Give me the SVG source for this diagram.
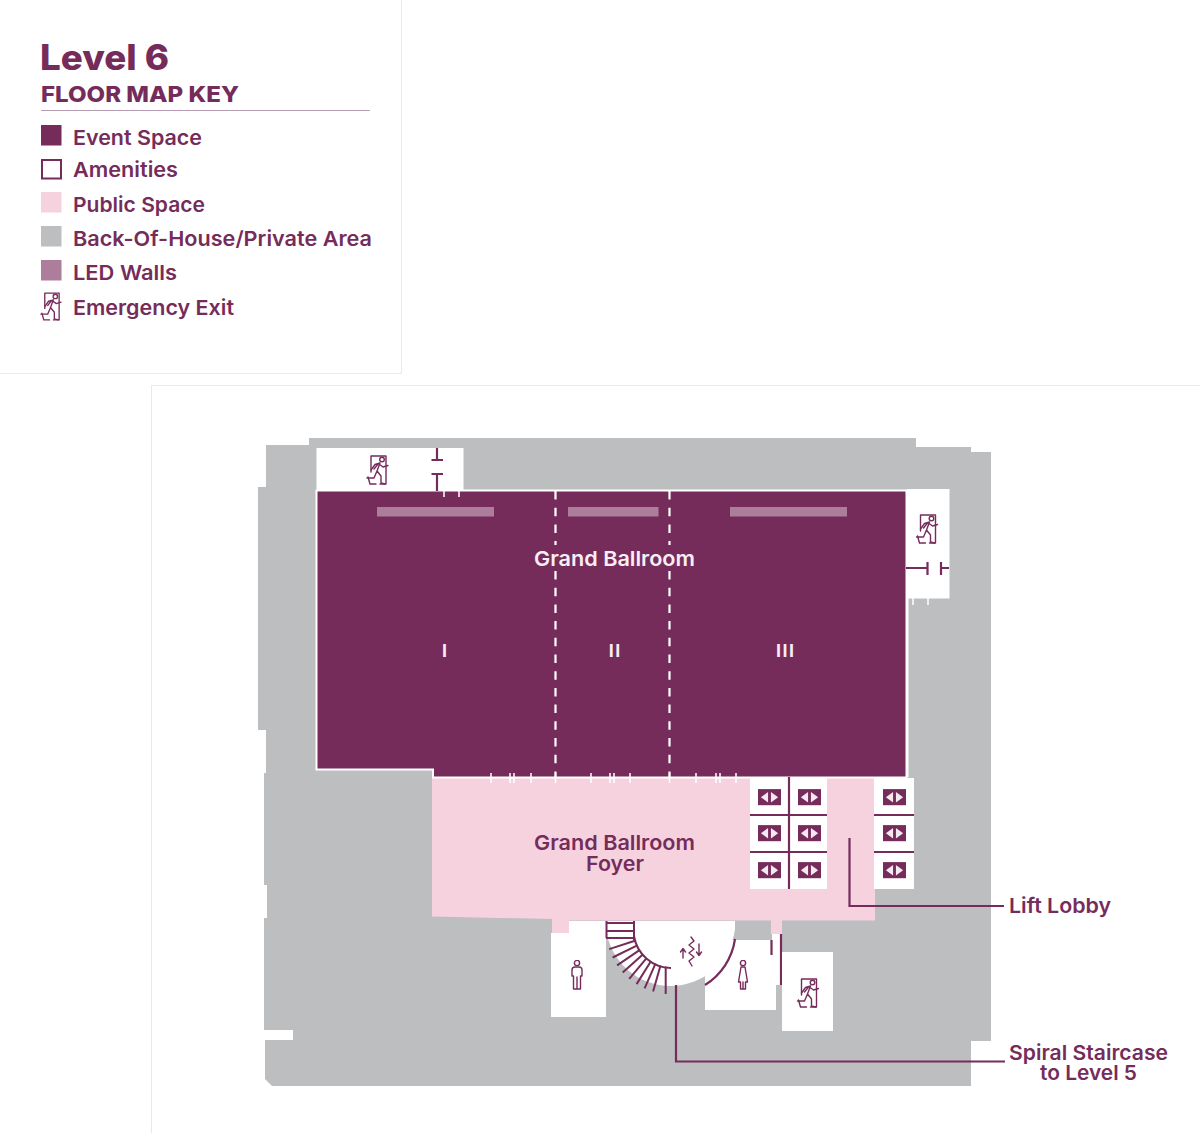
<svg xmlns="http://www.w3.org/2000/svg" xmlns:xlink="http://www.w3.org/1999/xlink" width="1200" height="1133" viewBox="0 0 1200 1133">
<style>
.t{font-family:"Inter","Liberation Sans",sans-serif;font-weight:600;font-size:20.5px;fill:#752c5b}
.w{fill:#f8eef4}
.num{font-family:"Liberation Sans",sans-serif;font-weight:700;font-size:18px;fill:#f8eef4;text-anchor:middle}
.ico{fill:none;stroke:#752c5b;stroke-width:1.4;stroke-linejoin:round;stroke-linecap:round}
.room{fill:#fff}
.pur{stroke:#752c5b;stroke-width:2.2;fill:none}
.tick{stroke:#fff;stroke-width:1.5;fill:none}
.dash{stroke:#fff;stroke-width:2.2;stroke-dasharray:8.5 8.2;fill:none}
.led{fill:#ad7e9c}
.tread{stroke:#752c5b;stroke-width:2;fill:none}
</style>
<defs>
<symbol id="exit" viewBox="0 0 23 31" overflow="visible">
<path class="ico" d="M5 17V1H20M20 1V29H14M4 29H10M4 29L2 22"/>
<circle class="ico" cx="16" cy="4.5" r="2.3"/>
<path class="ico" d="M14 8L9 9.500L5 15M14 8L11 16L15 21L15 28L19 29M11 16L8 23L1 23M13 9L17 12L22 10.500M12 9L8 14"/>
</symbol>
<symbol id="lift" viewBox="0 0 24 17">
<rect width="24" height="17" fill="#752c5b"/>
<path d="M3 8.500L10.500 3V14ZM13.500 3L21 8.500L13.500 14Z" fill="#f3e9ef"/>
</symbol>
<symbol id="man" viewBox="0 0 12 30">
<circle class="ico" cx="6" cy="3" r="2.600"/>
<path class="ico" d="M1 16V10Q1 7 4 7H8Q11 7 11 10V16H9.500V29H2.500V16ZM6 17V29"/>
</symbol>
<symbol id="woman" viewBox="0 0 12 30">
<circle class="ico" cx="6" cy="3" r="2.600"/>
<path class="ico" d="M4 7H8L10.500 22H8.500V29H3.500V22H1.500ZM6 22V29"/>
</symbol>
</defs>

<g id="page-frames">
<path d="M401.500 0V373.500H0M151.500 1133V385.500H1200" fill="none" stroke="#e9e9e9" stroke-width="1"/>
</g>

<g id="legend">
<text x="40" y="70" font-family="Inter,'Liberation Sans',sans-serif" font-weight="800" font-size="35" fill="#752c5b" textLength="129" lengthAdjust="spacingAndGlyphs">Level 6</text>
<text x="41" y="102" font-family="Inter,'Liberation Sans',sans-serif" font-weight="800" font-size="22" fill="#752c5b" textLength="198" lengthAdjust="spacingAndGlyphs">FLOOR MAP KEY</text>
<path d="M41 110.500H370" stroke="#b79db1" stroke-width="1"/>
<rect x="41" y="125" width="20.500" height="20.500" fill="#752c5b"/>
<rect x="42" y="160" width="19" height="18.500" fill="#fff" stroke="#752c5b" stroke-width="2"/>
<rect x="41" y="192" width="20.500" height="20.500" fill="#f5d2de"/>
<rect x="41" y="226" width="20.500" height="20.500" fill="#bcbec0"/>
<rect x="41" y="260" width="20.500" height="20.500" fill="#ad7e9c"/>
<use xlink:href="#exit" href="#exit" x="40" y="292" width="22" height="30"/>
<text class="t" x="73" y="145" textLength="129" lengthAdjust="spacingAndGlyphs">Event Space</text>
<text class="t" x="73" y="177" textLength="105" lengthAdjust="spacingAndGlyphs">Amenities</text>
<text class="t" x="73" y="212" textLength="132" lengthAdjust="spacingAndGlyphs">Public Space</text>
<text class="t" x="73" y="246" textLength="299" lengthAdjust="spacingAndGlyphs">Back-Of-House/Private Area</text>
<text class="t" x="73" y="280" textLength="104" lengthAdjust="spacingAndGlyphs">LED Walls</text>
<text class="t" x="73" y="315" textLength="161" lengthAdjust="spacingAndGlyphs">Emergency Exit</text>
</g>

<g id="back-of-house">
<path d="M309 438H916V447H971V452H991V1041H971V1086H272L265 1079V1040H293V1030H264V918H267V885H264V773H266V730H258V487H266V445H309Z" fill="#bcbec0"/>
</g>

<g id="foyer">
<path d="M432 778H875V920.500H782V934H771V920.500H569V933H552V919L432 916.500Z" fill="#f5d2de"/>
</g>

<g id="ballroom">
<path d="M316.500 490.500H906.500V777.500H433V769.500H316.500Z" fill="#752c5b" stroke="#fff" stroke-width="2"/>
<rect class="led" x="377" y="507" width="117" height="9.500"/>
<rect class="led" x="568" y="507" width="90.500" height="9.500"/>
<rect class="led" x="730" y="507" width="117" height="9.500"/>
<path class="dash" d="M555.500 491V545M669.500 491V545"/>
<path class="dash" d="M555.500 571V777M669.500 571V777"/>
<path class="tick" d="M444 491V497M459 491V497"/>
<path class="tick" d="M491 773V783M510 773V783M514 773V783M510 778H514M531 773V783M555.500 773V783M591 773V783M610 773V783M614 773V783M610 778H614M630 773V783M669.500 773V783M696 773V783M716 773V783M720 773V783M716 778H720M736 773V783"/>
<text x="614.500" y="566" text-anchor="middle" class="t w" textLength="161" lengthAdjust="spacingAndGlyphs">Grand Ballroom</text>
<text class="num" x="444.500" y="657">I</text>
<text class="num" x="615.300" y="657" letter-spacing="1.500">II</text>
<text class="num" x="785.700" y="657" letter-spacing="1.500">III</text>
</g>

<text class="t" x="614.500" y="850" text-anchor="middle" textLength="161" lengthAdjust="spacingAndGlyphs">Grand Ballroom</text>
<text class="t" x="615" y="871" text-anchor="middle" textLength="58" lengthAdjust="spacingAndGlyphs">Foyer</text>

<g id="exit-room-north">
<rect class="room" x="316.500" y="448" width="147" height="42"/>
<use xlink:href="#exit" href="#exit" x="366" y="455" width="23" height="31"/>
<path class="pur" d="M437 448V460M431.500 460H443M431.500 474H443M437 474V491"/>
</g>

<g id="exit-room-east">
<rect class="room" x="907" y="489" width="42.500" height="109.500"/>
<path d="M907.500 598V777" stroke="#fff" stroke-width="2"/>
<path class="tick" d="M913 598V605M928 598V605"/>
<use xlink:href="#exit" href="#exit" x="915" y="514" width="24" height="31"/>
<path class="pur" d="M906 568H927M927.500 562V575M941 562V575M941 568H949"/>
</g>

<g id="lifts">
<rect class="room" x="750" y="778" width="77" height="111"/>
<rect class="room" x="874" y="778" width="40" height="111"/>
<path class="pur" d="M789 777V889M750 815H827M750 852H827M874 815H914M874 852H914"/>
<use xlink:href="#lift" href="#lift" x="758" y="789" width="23" height="16.500"/>
<use xlink:href="#lift" href="#lift" x="798" y="789" width="23" height="16.500"/>
<use xlink:href="#lift" href="#lift" x="883" y="789" width="23" height="16.500"/>
<use xlink:href="#lift" href="#lift" x="758" y="825" width="23" height="16.500"/>
<use xlink:href="#lift" href="#lift" x="798" y="825" width="23" height="16.500"/>
<use xlink:href="#lift" href="#lift" x="883" y="825" width="23" height="16.500"/>
<use xlink:href="#lift" href="#lift" x="758" y="862" width="23" height="16.500"/>
<use xlink:href="#lift" href="#lift" x="798" y="862" width="23" height="16.500"/>
<use xlink:href="#lift" href="#lift" x="883" y="862" width="23" height="16.500"/>
</g>

<g id="wc-men">
<path class="room" d="M569 921H606V1017H551V933H569Z"/>
<use xlink:href="#man" href="#man" x="571" y="960" width="12" height="30"/>
</g>

<g id="wc-women">
<rect class="room" x="705" y="940" width="71" height="70"/>
<rect class="room" x="772" y="934" width="10" height="51"/>
<path class="pur" d="M771.500 940V955M781 934V985"/>
<use xlink:href="#woman" href="#woman" x="737" y="960" width="12" height="30"/>
</g>

<g id="exit-room-south">
<rect class="room" x="782" y="952" width="51" height="79"/>
<use xlink:href="#exit" href="#exit" x="796" y="978" width="24" height="31"/>
</g>

<g id="spiral-staircase">
<path class="room" d="M606 921H735V929A65 65 0 0 1 606 929Z"/>
<g class="tread">
<path d="M606.500 921V938M634 921V940M606 923H634M606 931H634M606 938H634"/>
<path d="M634.900 940.700L609.200 949.100M636.800 945.700L612.600 957.500M639.500 950.200L617.100 965.300M642.800 954.400L622.700 972.500M646.600 958.100L629.200 978.800M650.900 961.200L636.600 984.100M655.500 963.700L644.600 988.400M660.500 965.500L653.100 991.500M665.700 966.600V994"/>
<path d="M634 936A38 38 0 0 0 671 968"/>
</g>
<path class="pur" d="M735 939A65 65 0 0 1 705 985"/>
<path class="ico" d="M691 937L694 941L689 945L694 949L689 953L694 957L689 961L692 966M683 958V949M680.500 952L683 948.500L685.500 952M699 944V955M696.500 952L699 955.500L701.500 952"/>
</g>

<g id="connectors">
<path class="pur" d="M849.500 838V906H1004"/>
<path class="pur" d="M676 985V1061.500H1005"/>
</g>

<g id="callouts">
<text class="t" x="1009" y="913" textLength="102" lengthAdjust="spacingAndGlyphs">Lift Lobby</text>
<text class="t" x="1009" y="1060" textLength="159" lengthAdjust="spacingAndGlyphs">Spiral Staircase</text>
<text class="t" x="1040" y="1080" textLength="97" lengthAdjust="spacingAndGlyphs">to Level 5</text>
</g>
</svg>
